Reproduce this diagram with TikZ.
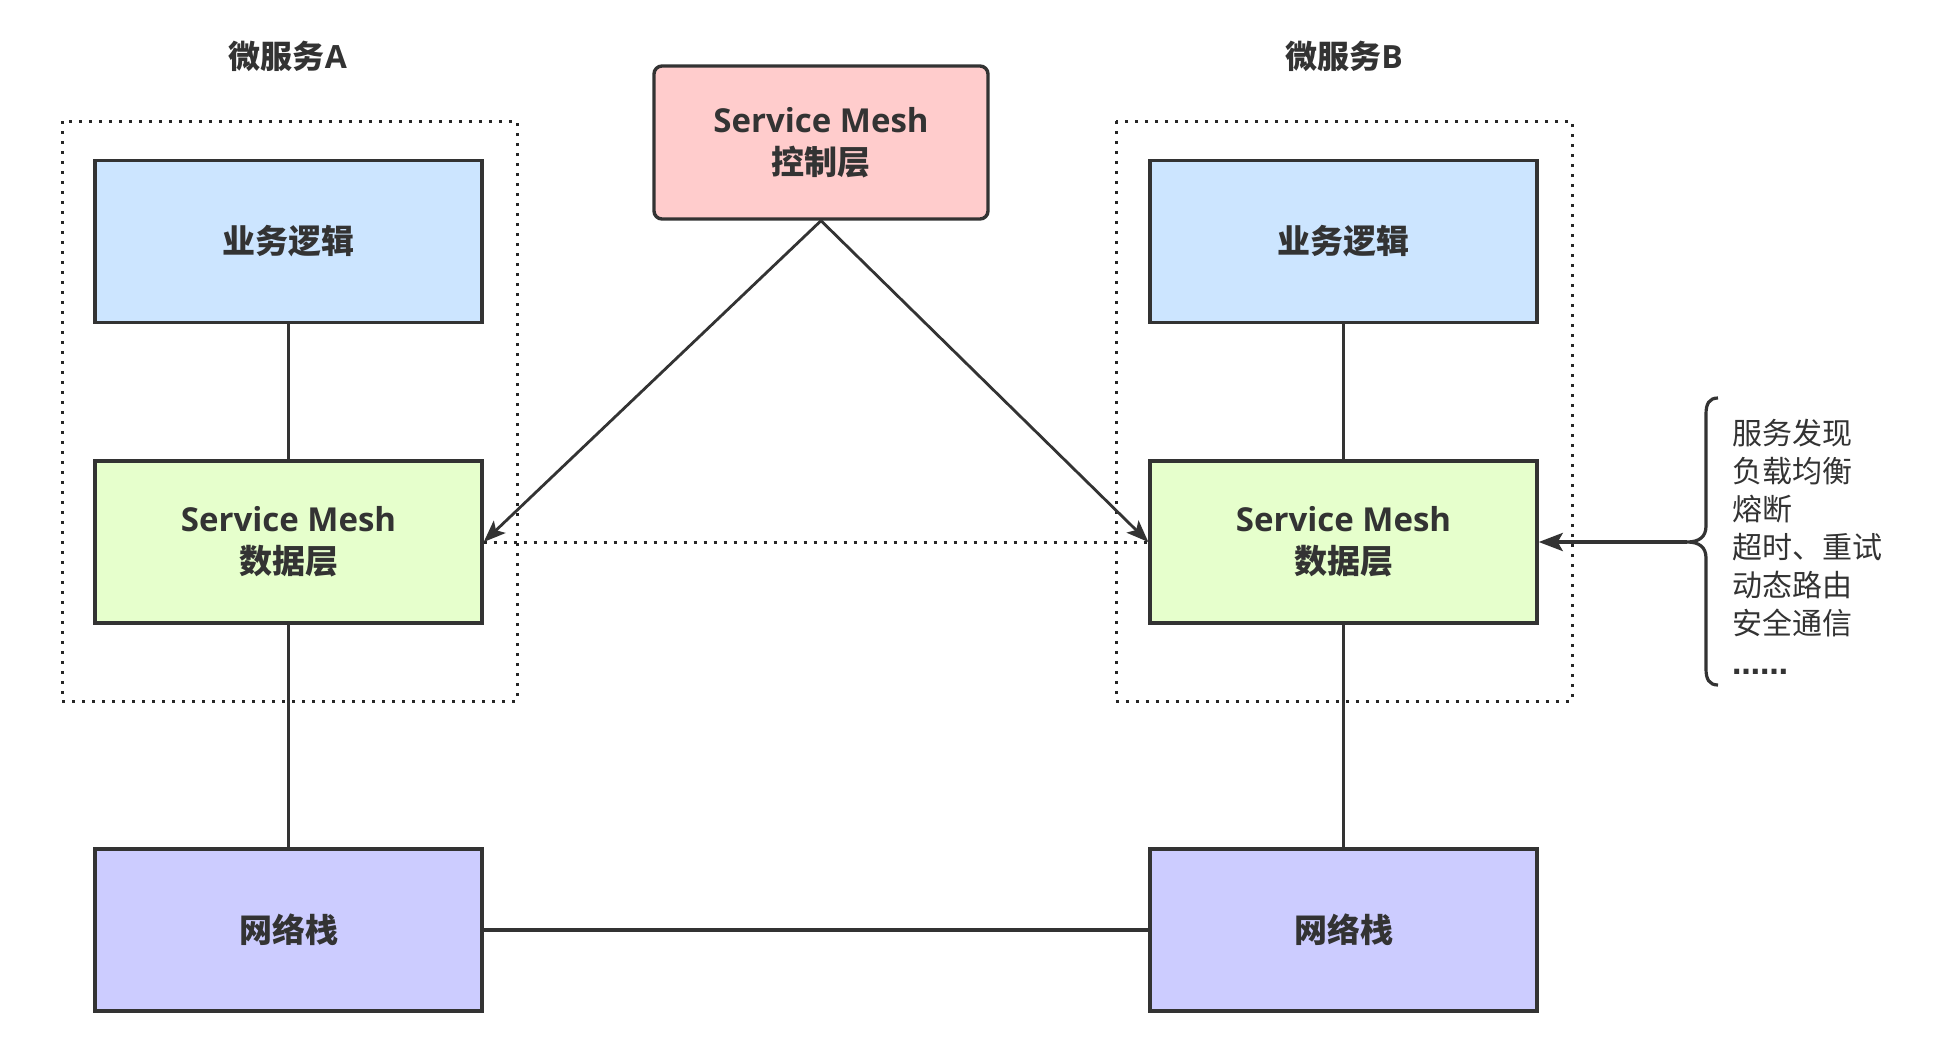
\documentclass[tikz,border=0pt]{standalone}
\usepackage{fontspec}
\setmainfont{Noto Sans CJK SC}
\newfontfamily\latinfont{Open Sans}
\newfontfamily\ellfont{DejaVu Sans}
\usetikzlibrary{arrows.meta}
\definecolor{stroke}{HTML}{333333}
\definecolor{txt}{HTML}{333333}
\definecolor{bizfill}{HTML}{CCE5FF}
\definecolor{datafill}{HTML}{E6FFCC}
\definecolor{netfill}{HTML}{CCCCFF}
\definecolor{ctrlfill}{HTML}{FFCCCC}
\begin{document}
\begin{tikzpicture}[x=1pt,y=-1pt,
  box/.style={draw=stroke, line width=3.4pt, minimum width=387pt, minimum height=162pt,
    inner sep=0pt, align=center, text=txt, font=\fontsize{33}{42}\selectfont\bfseries},
  title/.style={text=txt, font=\fontsize{32}{36}\selectfont\bfseries},
  cont/.style={draw=black!85, line width=3pt, dash pattern=on 3pt off 7pt},
  link/.style={draw=stroke, line width=2.8pt},
  arr/.style={link, -{Stealth[length=22pt,width=17pt,inset=5pt]}},
  item/.style={anchor=base west, inner sep=0pt, text=txt, font=\fontsize{30}{38}\selectfont},
]
\useasboundingbox (0,0) rectangle (1938,1060);

% containers
\draw[cont] (62,121) rectangle (517,701);
\draw[cont] (1116,121) rectangle (1572,701);

% titles
\node[title] (tA) at (288,56) {微服务{\latinfont\bfseries A}};
\node[title] (tB) at (1344,56) {微服务{\latinfont\bfseries B}};

% boxes
\node[box, fill=bizfill] (bizA) at (288.5,241.5) {业务逻辑};
\node[box, fill=datafill] (dataA) at (288.5,542) {{\latinfont\bfseries Service Mesh}\\数据层};
\node[box, fill=netfill] (netA) at (288.5,930) {网络栈};

\node[box, fill=bizfill] (bizB) at (1343.5,241.5) {业务逻辑};
\node[box, fill=datafill] (dataB) at (1343.5,542) {{\latinfont\bfseries Service Mesh}\\数据层};
\node[box, fill=netfill] (netB) at (1343.5,930) {网络栈};

\node[box, fill=ctrlfill, minimum width=334pt, minimum height=153pt, rounded corners=8pt] (ctrl) at (821,142.5) {{\latinfont\bfseries Service Mesh}\\控制层};

% connectors
\draw[link] (bizA) -- (dataA);
\draw[link] (dataA) -- (netA);
\draw[link] (bizB) -- (dataB);
\draw[link] (dataB) -- (netB);
\draw[draw=stroke, line width=3.6pt] (netA) -- (netB);
\draw[cont] (dataA.east) -- (dataB.west);
\draw[arr] (ctrl.south) -- (dataA.east);
\draw[arr] (ctrl.south) -- (dataB.west);

% brace
\coordinate (tip) at (1687,542);
\draw[draw=stroke, line width=3.2pt] (1718,398) .. controls (1709,398) and (1706,404) .. (1706,414)
  -- (1706,526) .. controls (1706,537) and (1699,542) .. (tip)
  .. controls (1699,542) and (1706,547) .. (1706,558)
  -- (1706,669) .. controls (1706,679) and (1709,685) .. (1718,685);
\draw[draw=stroke, line width=3.8pt, -{Stealth[length=24pt,width=18pt,inset=5pt]}] (tip) -- (dataB.east);

% list
\node[item] (l1) at (1732,444) {服务发现};
\node[item] (l2) at (1732,482) {负载均衡};
\node[item] (l3) at (1732,520) {熔断};
\node[item] (l4) at (1732,558) {超时、重试};
\node[item] (l5) at (1732,596) {动态路由};
\node[item] (l6) at (1732,634) {安全通信};
\node[item] (l7) at (1732,674) {\ellfont\bfseries\fontsize{28}{38}\selectfont ……};
\end{tikzpicture}
\end{document}
